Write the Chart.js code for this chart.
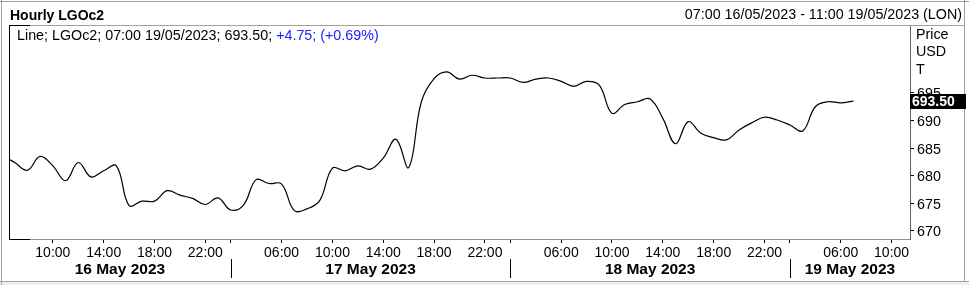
<!DOCTYPE html>
<html>
<head>
<meta charset="utf-8">
<script src="https://cdn.jsdelivr.net/npm/chart.js@4"></script>
<style>
  html, body { margin: 0; padding: 0; background: #fff; }
  #wrap { width: 969px; height: 285px; }
</style>
</head>
<body>
<div id="wrap"><canvas id="priceChart" width="969" height="285"></canvas></div>
<script>
// hourly closes, bar index -1 (06:00 16 May) .. 66 (07:00 19 May)
const firstIdx = -1;
const prices = [
  683.7, 682.4, 681.0, 683.5, 681.8, 679.1, 682.4, 679.8, 680.9, 681.8,
  674.6, 675.4, 675.4, 677.3, 676.5, 675.9, 674.8, 676.0, 673.8, 674.7,
  679.3, 678.6, 678.5, 673.7, 674.0, 675.5, 681.4, 680.9, 681.8, 681.2,
  683.2, 686.6, 681.5, 693.4, 697.6, 698.8, 697.5, 698.2, 697.7, 697.7,
  697.7, 696.9, 697.5, 697.7, 697.1, 696.2, 697.1, 696.4, 691.3, 692.9,
  693.4, 693.9, 690.4, 685.8, 689.8, 687.7, 686.9, 686.5, 688.3, 689.6,
  690.6, 690.1, 689.2, 688.1, 692.5, 693.4, 693.2, 693.5
];

// x axis: bar index of each time tick and its label
const timeTicks = [3, 7, 11, 15, 21, 25, 29, 33, 37, 43, 47, 51, 55, 59, 65, 69];
const timeTickLabels = ['10:00', '14:00', '18:00', '22:00',
  '06:00', '10:00', '14:00', '18:00', '22:00',
  '06:00', '10:00', '14:00', '18:00', '22:00',
  '06:00', '10:00'];
const daySeparators = [17, 39, 61];
const dayLabels = ['16 May 2023', '17 May 2023', '18 May 2023', '19 May 2023'];

const yTicks = [670, 675, 680, 685, 690, 695];
const lastPrice = 693.50;
const legendMain = 'Line; LGOc2; 07:00 19/05/2023; 693.50; ';
const legendChange = '+4.75; (+0.69%)';

const FONT = '"Liberation Sans", Arial, sans-serif';
Chart.defaults.font.family = FONT;
Chart.defaults.color = '#000';

const decorations = {
  id: 'decorations',
  beforeDraw(chart) {
    const c = chart.ctx;
    c.save();
    c.fillStyle = '#fff';
    c.fillRect(0, 0, chart.width, chart.height);
    c.restore();
  },
  afterDraw(chart) {
    const c = chart.ctx;
    const a = chart.chartArea;
    const xs = chart.scales.x;
    const ys = chart.scales.y;
    c.save();

    // outer frame
    c.fillStyle = '#efefef';
    c.fillRect(0, 281, chart.width, 4);
    c.strokeStyle = '#a0a0a0';
    c.lineWidth = 1;
    c.beginPath();
    c.moveTo(1.5, 0); c.lineTo(1.5, 285);
    c.moveTo(0, 1.5); c.lineTo(969, 1.5);
    c.moveTo(964.5, 0); c.lineTo(964.5, 281);
    c.moveTo(0, 281.5); c.lineTo(969, 281.5);
    c.stroke();

    // title row
    c.fillStyle = '#000';
    c.textBaseline = 'alphabetic';
    c.font = 'bold 14px ' + FONT;
    c.textAlign = 'left';
    c.fillText('Hourly LGOc2', 10, 20);
    c.font = '14.3px ' + FONT;
    c.textAlign = 'right';
    c.fillText('07:00 16/05/2023 - 11:00 19/05/2023 (LON)', 962, 19);

    // plot frame
    c.strokeStyle = '#a0a0a0';
    c.beginPath();
    c.moveTo(a.left, a.top + 0.5); c.lineTo(964, a.top + 0.5);
    c.stroke();
    c.strokeStyle = '#000';
    c.beginPath();
    c.moveTo(a.left + 0.5, a.top); c.lineTo(a.left + 0.5, a.bottom + 1);
    c.moveTo(a.left, a.top + 0.5); c.lineTo(a.left + 21, a.top + 0.5);
    c.moveTo(a.left, a.bottom + 0.5); c.lineTo(a.left + 21, a.bottom + 0.5);
    c.stroke();

    // legend line
    c.textAlign = 'left';
    c.font = '14.3px ' + FONT;
    c.fillStyle = '#000';
    c.fillText(legendMain, 17, 40);
    const w = c.measureText(legendMain).width;
    c.fillStyle = '#2020ff';
    c.fillText(legendChange, 17 + w, 40);

    // right axis captions
    c.fillStyle = '#000';
    c.fillText('Price', 916, 38.5);
    c.fillText('USD', 916, 56);
    c.fillText('T', 916, 74);

    // last price marker
    const py = ys.getPixelForValue(lastPrice);
    c.fillStyle = '#000';
    c.fillRect(a.right, Math.round(py) - 7, 966 - a.right, 15);
    c.fillStyle = '#fff';
    c.font = 'bold 14px ' + FONT;
    c.textBaseline = 'middle';
    c.fillText(lastPrice.toFixed(2), a.right + 2, Math.round(py) + 1);

    // date row
    const bounds = [a.left].concat(daySeparators.map(v => xs.getPixelForValue(v)), [a.right]);
    c.strokeStyle = '#000';
    c.beginPath();
    daySeparators.forEach(v => {
      const x = Math.round(xs.getPixelForValue(v)) + 0.5;
      c.moveTo(x, 259); c.lineTo(x, 278);
    });
    c.stroke();
    c.font = 'bold 15.5px ' + FONT;
    c.textAlign = 'center';
    c.textBaseline = 'alphabetic';
    c.fillStyle = '#000';
    dayLabels.forEach((d, i) => {
      c.fillText(d, (bounds[i] + bounds[i + 1]) / 2, 273.5);
    });
    c.restore();
  }
};

const ctx = document.getElementById('priceChart').getContext('2d');
const chart = new Chart(ctx, {
  type: 'line',
  data: {
    datasets: [{
      label: 'LGOc2',
      data: prices.map((v, i) => ({ x: i + firstIdx, y: v })),
      borderColor: '#000',
      borderWidth: 1.2,
      pointRadius: 0,
      tension: 0.4,
      fill: false
    }]
  },
  options: {
    responsive: false,
    animation: false,
    events: [],
    layout: { padding: { left: 9, top: 25, right: 0, bottom: 0 } },
    plugins: {
      legend: { display: false },
      tooltip: { enabled: false }
    },
    scales: {
      x: {
        type: 'linear',
        position: 'bottom',
        min: -0.45,
        max: 70.45,
        afterBuildTicks: scale => {
          scale.ticks = timeTicks.concat(daySeparators).sort((p, q) => p - q).map(v => ({ value: v }));
        },
        afterFit: scale => { scale.height = 46; },
        ticks: {
          autoSkip: false,
          maxRotation: 0,
          padding: 1.5,
          font: { size: 14 },
          color: '#000',
          callback: value => {
            const k = timeTicks.indexOf(value);
            return k >= 0 ? timeTickLabels[k] : '';
          }
        },
        grid: {
          drawOnChartArea: false,
          drawTicks: true,
          tickLength: 4,
          tickColor: '#000',
          tickWidth: 1
        },
        border: { display: true, color: '#909090', width: 1 }
      },
      y: {
        type: 'linear',
        position: 'right',
        min: 668.55,
        max: 707.3,
        afterBuildTicks: scale => {
          scale.ticks = yTicks.map(v => ({ value: v }));
        },
        afterFit: scale => { scale.width = 59; },
        ticks: {
          autoSkip: false,
          padding: 3,
          labelOffset: 1.5,
          font: { size: 14.3 },
          color: '#000'
        },
        grid: {
          drawOnChartArea: false,
          drawTicks: true,
          tickLength: 4,
          tickColor: '#000',
          tickWidth: 1
        },
        border: { display: true, color: '#606060', width: 1 }
      }
    }
  },
  plugins: [decorations]
});
</script>
</body>
</html>
